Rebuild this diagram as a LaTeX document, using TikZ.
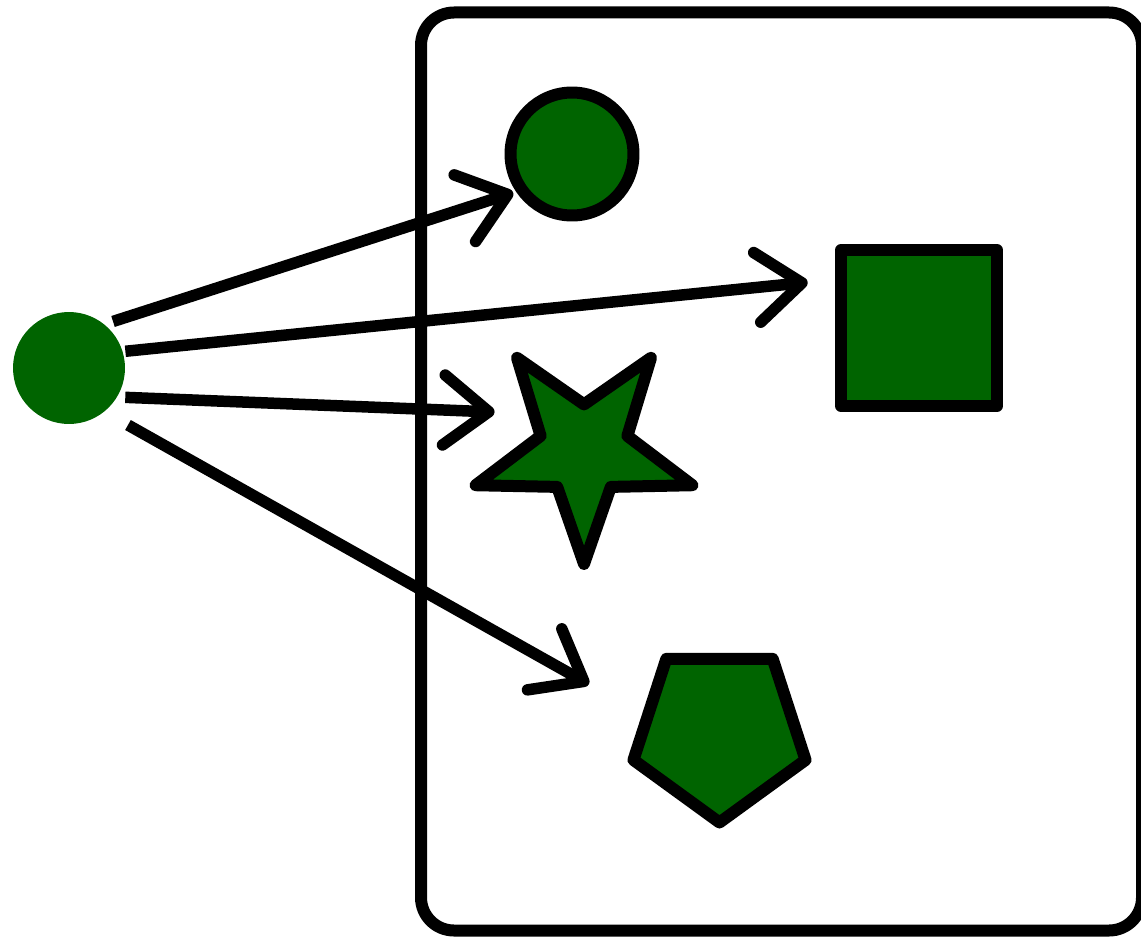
\documentclass[tikz,border=0pt]{standalone}
\usepackage{tikz}
\usepackage{xcolor}
\usetikzlibrary{shapes,arrows.meta,positioning}

\definecolor{shapegreen}{HTML}{006400}

\begin{document}
\begin{tikzpicture}[
    x=0.02cm, y=-0.02cm,
    source/.style={circle, fill=shapegreen, minimum size=2.24cm, inner sep=0pt},
    member/.style={draw, fill=shapegreen, line width=0.24cm, line join=round, inner sep=0pt},
    arrow/.style={-{Straight Barb[length=0.9cm, width=1.4cm, round]}, line width=0.23cm}
]
\useasboundingbox (0,0) rectangle (1141,936);

% Set frame
\draw[line width=0.24cm, rounded corners=0.66cm] (421,12.5) rectangle (1142,930.5);

% Source element
\node[source] (src) at (69,368) {};

% Members
\node[member, circle, minimum size=2.46cm] (circ) at (572,154) {};
\node[member, rectangle, minimum size=3.12cm] (sq) at (919,328) {};
\node[member, star, star points=5, star point ratio=2.5, shape border rotate=180, minimum size=4.56cm] (pstar) at (584,450) {};
\node[member, regular polygon, regular polygon sides=5, shape border rotate=180, minimum size=3.62cm] (pent) at (719.5,732) {};

% Arrows
\draw[arrow, shorten <=0.18cm, shorten >=0.06cm] (src.51) -- (circ.214);
\draw[arrow, shorten <=0.05cm, shorten >=0.55cm] (src.17) -- (sq.150);
\draw[arrow, shorten <=0.16cm, shorten >=0.66cm] (src.-31) -- (pstar.147);
\draw[arrow, shorten <=0.54cm, shorten >=1.22cm] (src.-51) -- (pent.167);

\end{tikzpicture}
\end{document}
